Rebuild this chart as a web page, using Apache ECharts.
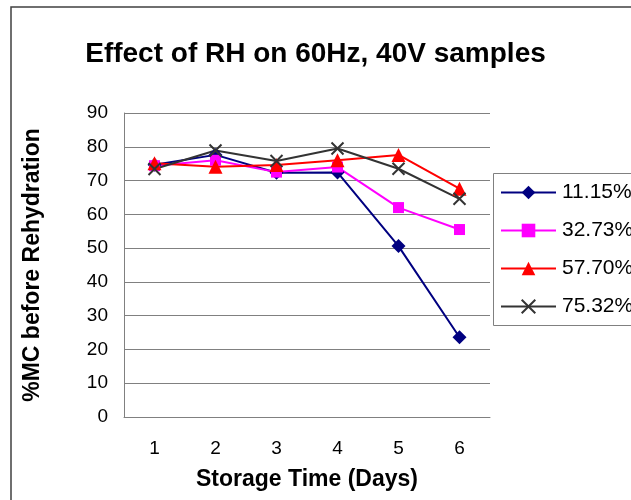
<!DOCTYPE html>
<html>
<head>
<meta charset="utf-8">
<script src="https://cdn.jsdelivr.net/npm/echarts@6/dist/echarts.min.js"></script>
<style>
html,body{margin:0;padding:0;background:#fff;}
#chart{width:631px;height:500px;}
</style>
</head>
<body>
<div id="chart"></div>
<script>
var categories = ['1', '2', '3', '4', '5', '6'];
var seriesNames = ['11.15%', '32.73%', '57.70%', '75.32%'];
var rh1115 = [74.7, 77.6, 72.3, 72.4, 50.6, 23.6];
var rh3273 = [74.4, 76.0, 72.5, 74.0, 62.0, 55.5];
var rh5770 = [75.1, 74.1, 74.6, 76.0, 77.6, 67.6];
var rh7532 = [73.4, 78.9, 75.8, 79.5, 73.5, 64.6];
var yTicks = [0, 10, 20, 30, 40, 50, 60, 70, 80, 90];

var FONT = 'Liberation Sans, Arial, sans-serif';
var xPath = 'path://M0,0 L10,10 M10,0 L0,10';

var chart = echarts.init(document.getElementById('chart'), null, {renderer: 'canvas'});

function mk(name, data, color, symbol, size, extra) {
  var s = {
    name: name,
    type: 'line',
    data: data,
    symbol: symbol,
    symbolSize: size,
    showAllSymbol: true,
    lineStyle: {color: color, width: 2},
    itemStyle: {color: color, opacity: 1},
    emphasis: {disabled: true},
    animation: false
  };
  if (extra) { Object.assign(s.itemStyle, extra); }
  return s;
}

var option = {
  animation: false,
  backgroundColor: '#ffffff',
  title: {
    text: 'Effect of RH on 60Hz, 40V samples',
    left: 'center',
    top: 35,
    textStyle: {fontFamily: FONT, fontSize: 28, fontWeight: 'bold', color: '#000'}
  },
  grid: {left: 124, right: 141, top: 113, bottom: 83, containLabel: false},
  legend: {
    orient: 'vertical',
    left: 500,
    top: 182,
    padding: 0,
    itemWidth: 55,
    itemHeight: 17,
    itemGap: 17,
    data: seriesNames,
    textStyle: {fontFamily: FONT, fontSize: 21, lineHeight: 21, color: '#000', padding: [0, 0, 0, 1]}
  },
  xAxis: {
    type: 'category',
    data: categories,
    boundaryGap: true,
    name: 'Storage Time (Days)',
    nameLocation: 'middle',
    nameGap: 51,
    nameTextStyle: {fontFamily: FONT, fontSize: 23, fontWeight: 'bold', color: '#000'},
    axisLine: {show: true, lineStyle: {color: '#808080', width: 1}},
    axisTick: {show: false},
    axisLabel: {fontFamily: FONT, fontSize: 19, color: '#000', margin: 22},
    splitLine: {show: false}
  },
  yAxis: {
    type: 'value',
    min: yTicks[0],
    max: yTicks[yTicks.length - 1],
    interval: 10,
    name: '%MC before Rehydration',
    nameLocation: 'middle',
    nameGap: 80,
    nameRotate: 90,
    nameTextStyle: {fontFamily: FONT, fontSize: 23, fontWeight: 'bold', color: '#000'},
    axisLine: {show: true, lineStyle: {color: '#808080', width: 1}},
    axisTick: {show: false},
    axisLabel: {fontFamily: FONT, fontSize: 19, color: '#000', margin: 16},
    splitLine: {show: true, lineStyle: {color: '#808080', width: 1}}
  },
  graphic: [
    {type: 'rect', shape: {x: 11, y: 7, width: 700, height: 600}, style: {fill: 'none', stroke: '#404040', lineWidth: 1.5}, silent: true, z: 100},
    {type: 'rect', shape: {x: 493.5, y: 173.5, width: 300, height: 152}, style: {fill: 'none', stroke: '#808080', lineWidth: 1}, silent: true, z: 100}
  ],
  series: [
    mk(seriesNames[0], rh1115, '#000080', 'diamond', 14),
    mk(seriesNames[1], rh3273, '#FF00FF', 'rect', 11),
    mk(seriesNames[2], rh5770, '#FF0000', 'triangle', 14),
    mk(seriesNames[3], rh7532, '#333333', xPath, 12, {borderColor: '#333333', borderWidth: 2})
  ]
};
chart.setOption(option);
</script>
</body>
</html>
